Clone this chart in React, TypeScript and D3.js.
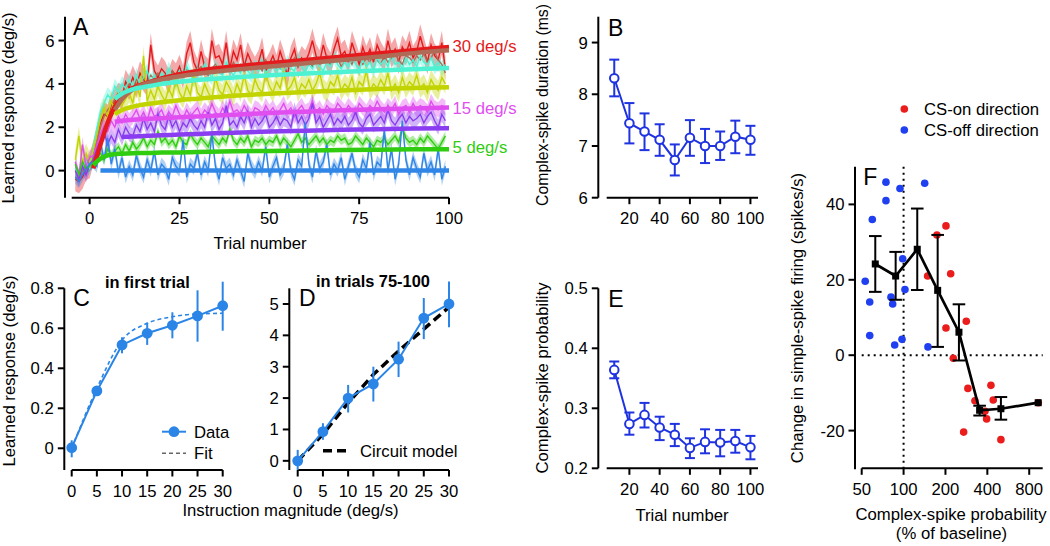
import React from 'react';
import * as d3 from 'd3';

const FONT = '"Liberation Sans", Arial, Helvetica, sans-serif';

// ---------------- Panel A data (trials -4 .. 99) ----------------
const trialsA = d3.range(-4, 100);
const respRed30 = [-0.4, -0.5, -0.3, 0.1, 0.2,
  0.8, 1.5, 2.2, 2.6, 2.5, 3.0, 3.2, 3.5, 3.4, 4.1,
  3.8, 4.3, 3.9, 4.5, 4.2, 4.0, 5.8, 4.6, 4.3, 4.7,
  4.5, 4.1, 4.6, 4.4, 4.8, 4.3, 5.4, 5.9, 5.0, 4.6,
  5.5, 4.8, 4.6, 6.0, 5.2, 5.3, 4.9, 5.9, 4.7, 5.5,
  5.1, 5.8, 4.8, 5.4, 5.0, 4.7, 5.0, 5.6, 4.6, 4.9,
  5.3, 4.8, 5.5, 5.0, 4.4, 5.2, 5.6, 4.8, 5.2, 5.0,
  5.4, 6.0, 5.3, 5.0, 5.8, 5.2, 4.9, 5.6, 6.1, 5.3,
  5.5, 5.0, 5.9, 5.4, 4.9, 5.7, 5.2, 5.6, 5.0, 5.8,
  5.4, 5.1, 6.0, 5.3, 5.6, 5.0, 5.7, 5.4, 5.9, 5.2,
  5.5, 6.2, 5.6, 5.0, 5.8, 5.3, 5.1, 5.9, 4.7];
const respBrown = [-0.3, -0.4, 0.0, 0.2, 0.1,
  0.6, 1.3, 2.0, 2.5, 2.8, 3.0, 3.3, 3.6, 3.5, 3.8,
  4.0, 3.8, 4.2, 4.0, 4.3, 4.1, 4.4, 4.2, 4.5, 4.3,
  4.4, 4.2, 4.6, 4.3, 4.5, 4.4, 4.7, 4.5, 4.3, 4.6,
  4.8, 4.5, 4.4, 4.7, 4.9, 4.6, 4.5, 4.8, 4.6, 5.0,
  4.7, 4.9, 4.6, 4.8, 5.0, 4.7, 4.9, 4.6, 5.1, 4.8,
  4.9, 5.0, 4.7, 5.1, 4.8, 4.9, 5.2, 4.8, 5.0, 4.9,
  5.1, 4.8, 5.2, 4.9, 5.0, 5.3, 4.9, 5.1, 5.2, 4.8,
  5.0, 5.2, 4.9, 5.3, 5.1, 4.9, 5.2, 5.0, 5.4, 5.1,
  4.9, 5.3, 5.0, 5.2, 5.4, 5.1, 4.9, 5.3, 5.2, 5.0,
  5.3, 5.1, 5.4, 5.0, 5.2, 5.5, 5.1, 4.9, 4.5];
const respCyan25 = [0.1, -0.3, 0.2, 0.4, 0.1,
  1.0, 1.9, 2.7, 3.1, 3.5, 3.3, 3.9, 3.6, 4.0, 3.8,
  4.2, 3.9, 4.4, 4.0, 4.3, 4.6, 4.1, 4.4, 4.0, 4.5,
  4.2, 4.7, 4.3, 4.1, 4.6, 4.3, 4.8, 4.4, 4.2, 4.7,
  4.4, 4.9, 4.5, 4.3, 4.8, 4.5, 4.4, 5.0, 4.6, 4.4,
  4.7, 4.5, 4.9, 4.6, 4.4, 4.8, 4.6, 5.1, 4.5, 4.7,
  4.9, 4.6, 4.8, 4.5, 5.0, 4.7, 4.6, 5.2, 4.8, 4.6,
  4.9, 4.7, 5.1, 4.8, 4.6, 5.0, 4.8, 5.3, 4.9, 4.7,
  5.0, 4.8, 5.2, 4.9, 4.7, 5.1, 4.8, 5.0, 4.6, 5.2,
  4.9, 5.1, 4.8, 5.4, 4.9, 5.0, 4.7, 5.2, 4.9, 5.1,
  4.8, 5.3, 5.0, 4.9, 5.2, 4.8, 5.0, 4.7, 4.9];
const respYellow20 = [0.5, 1.6, 0.3, 0.8, 0.4,
  0.9, 1.6, 2.4, 2.9, 2.5, 3.2, 2.8, 3.5, 3.0, 3.3,
  3.6, 3.1, 4.0, 3.4, 5.3, 3.2, 3.7, 3.3, 3.9, 3.5,
  3.2, 3.8, 3.4, 4.2, 3.6, 3.3, 3.9, 3.5, 4.4, 3.6,
  3.4, 4.0, 3.6, 3.3, 4.3, 3.7, 3.5, 4.1, 3.8, 3.4,
  4.0, 3.6, 4.4, 3.7, 3.5, 4.2, 3.8, 3.6, 4.5, 3.9,
  3.6, 4.1, 3.8, 4.6, 3.7, 3.9, 4.3, 3.6, 4.0, 3.8,
  4.2, 3.7, 4.0, 4.5, 3.8, 3.6, 4.1, 3.9, 4.4, 3.7,
  4.0, 3.8, 4.3, 3.6, 4.1, 3.9, 4.6, 3.7, 4.0, 3.8,
  4.2, 3.9, 4.5, 3.7, 4.0, 3.6, 4.3, 3.8, 4.1, 3.9,
  4.4, 3.8, 4.0, 3.6, 4.2, 3.9, 3.7, 4.3, 4.0];
const respMagenta15 = [0.4, -0.3, 1.2, 0.2, 0.6,
  0.7, 1.2, 1.7, 2.0, 1.8, 2.3, 2.0, 2.5, 2.2, 2.6,
  2.3, 2.5, 2.8, 2.4, 2.7, 2.3, 2.9, 2.5, 2.6, 2.8,
  2.4, 2.7, 2.5, 3.0, 2.6, 2.4, 2.8, 2.5, 2.7, 2.9,
  2.5, 2.8, 2.6, 3.1, 2.7, 2.5, 2.9, 2.6, 3.2, 2.7,
  2.8, 2.6, 3.0, 2.7, 2.5, 2.9, 2.8, 2.6, 3.0, 2.7,
  2.9, 2.6, 2.8, 3.1, 2.7, 2.9, 2.5, 2.8, 3.0, 2.7,
  2.8, 3.2, 2.7, 2.9, 2.6, 3.0, 2.8, 2.7, 3.1, 2.9,
  2.7, 3.0, 2.8, 2.6, 3.1, 2.9, 2.7, 3.0, 2.8, 3.2,
  2.9, 2.7, 3.0, 2.8, 3.1, 2.6, 2.9, 3.0, 2.7, 3.1,
  2.8, 3.0, 2.9, 2.7, 3.2, 2.9, 2.8, 3.0, 2.9];
const respPurple10 = [0.0, -0.4, 0.2, -0.2, 0.3,
  0.5, 1.0, 1.4, 1.8, 1.2, 1.6, 1.3, 1.9, 1.5, 2.0,
  1.7, 1.6, 2.1, 1.8, 2.4, 1.9, 2.2, 1.8, 2.6, 2.1,
  1.9, 2.5, 2.0, 2.3, 1.8, 2.2, 2.0, 2.4, 2.1, 1.9,
  2.3, 2.0, 2.7, 2.1, 2.4, 1.9, 2.2, 3.0, 2.1, 2.3,
  2.0, 2.5, 2.2, 2.7, 2.0, 2.4, 2.1, 2.3, 2.6, 2.0,
  2.2, 2.5, 2.1, 2.4, 2.3, 2.0, 2.8, 2.2, 2.5, 2.1,
  2.4, 3.1, 2.2, 2.5, 2.0, 2.3, 2.6, 2.1, 2.4, 2.2,
  2.5, 2.1, 2.3, 2.7, 2.2, 2.0, 2.4, 2.6, 2.1, 2.3,
  2.5, 2.2, 2.8, 2.3, 2.1, 2.4, 2.6, 2.2, 2.5, 2.3,
  2.4, 2.6, 2.2, 2.5, 2.7, 2.3, 2.0, 2.6, 2.3];
const respGreen5 = [0.3, -0.2, 0.4, 0.1, 0.2,
  0.4, 0.6, 0.8, 0.5, 1.0, 0.7, 0.9, 1.1, 0.8, 1.2,
  0.9, 1.3, 1.0, 1.2, 1.5, 1.1, 1.4, 1.2, 1.8, 1.3,
  1.5, 1.2, 1.4, 1.1, 1.6, 1.3, 1.2, 1.7, 1.4, 1.2,
  1.5, 1.3, 1.1, 1.6, 1.4, 1.2, 1.5, 1.3, 1.9, 1.4,
  1.2, 1.5, 1.3, 1.6, 1.1, 1.4, 1.3, 1.5, 1.2, 1.4,
  1.3, 1.6, 1.2, 1.5, 1.3, 1.1, 1.4, 1.7, 1.3, 1.5,
  1.2, 1.4, 1.6, 1.3, 1.5, 1.2, 1.4, 1.3, 1.6, 1.4,
  1.5, 1.2, 1.3, 1.6, 1.4, 1.2, 1.5, 1.3, 1.1, 1.4,
  1.3, 1.5, 1.2, 1.4, 1.6, 1.3, 2.0, 1.5, 1.3, 1.4,
  1.2, 1.5, 1.3, 1.6, 1.4, 1.2, 1.0, 1.3, 1.6];
const respBlue0 = [-0.3, -0.5, -0.2, 0.1, 0.3,
  0.4, 0.2, 1.3, 0.5, 1.5, 0.3, 1.0, -0.1, 0.6, -0.3,
  0.2, -0.2, 0.7, 0.1, -0.3, 0.5, 0.0, 0.9, -0.2, 0.3,
  0.1, -0.4, 0.6, 0.2, 0.0, 1.4, -0.3, 0.3, 0.1, 0.8,
  -0.2, 0.4, 0.0, 1.7, 0.2, -0.4, 0.6, 0.1, 0.3, -0.2,
  0.5, 0.0, -0.5, 0.8, 0.2, -0.1, 0.4, 0.0, 1.1, -0.3,
  0.2, 0.6, -0.2, 0.1, 1.2, 0.0, -0.4, 0.5, 0.2, 2.2,
  0.3, -0.3, 0.9, 0.1, 0.4, 1.2, -0.2, 0.3, 0.0, 0.6,
  -0.4, 0.2, 0.8, 0.0, -0.3, 0.5, 0.1, 1.3, -0.2, 0.4,
  0.2, 1.9, 0.0, 1.0, -0.4, 0.3, 2.3, 0.5, -0.2, 0.6,
  0.1, -0.3, 0.8, 0.0, 0.4, -0.2, 1.0, -0.4, 0.2];

const fitTrialsA = [1, 3, 5, 7, 9, 12, 15, 20, 25, 30, 40, 50, 60, 70, 80, 90, 100];
const fitRed30 = [0.1, 1.2, 2.2, 2.95, 3.4, 3.8, 4.0, 4.25, 4.45, 4.6, 4.8, 4.95, 5.1, 5.25, 5.4, 5.55, 5.7];
const fitBrown = [null, null, null, 2.8, 3.3, 3.75, 3.98, 4.2, 4.35, 4.47, 4.65, 4.8, 4.95, 5.1, 5.25, 5.42, 5.55];
const fitCyan25 = [null, null, null, 3.3, 3.55, 3.75, 3.85, 4.0, 4.1, 4.18, 4.3, 4.4, 4.48, 4.55, 4.62, 4.68, 4.73];
const fitYellow20 = [null, null, null, 2.6, 2.8, 2.95, 3.05, 3.15, 3.25, 3.32, 3.45, 3.55, 3.63, 3.7, 3.76, 3.81, 3.85];
const fitMagenta15 = [null, null, null, 2.25, 2.3, 2.35, 2.38, 2.42, 2.46, 2.5, 2.58, 2.66, 2.72, 2.78, 2.83, 2.87, 2.91];
const fitPurple10 = [null, null, null, null, 1.55, 1.57, 1.6, 1.63, 1.66, 1.69, 1.75, 1.8, 1.84, 1.88, 1.91, 1.94, 1.96];
const fitGreen5 = [0.25, 0.55, 0.7, 0.76, 0.78, 0.8, 0.81, 0.83, 0.84, 0.86, 0.89, 0.91, 0.93, 0.95, 0.96, 0.98, 0.99];
const fitBlue0 = [null, 0, 0, 0, 0, 0, 0, 0, 0, 0, 0, 0, 0, 0, 0, 0, 0];

const colorsA = ['#e41a1c', '#b06a55', '#4cf2d2', '#c2d400', '#e04ef0', '#8a3df0', '#2fcc10', '#2f86e6'];
const semA = [0.55, 0, 0.35, 0.45, 0.35, 0.35, 0.22, 0.3];
const labelsA = ['30 deg/s', '15 deg/s', '5 deg/s'];
const labelValsA = [5.77, 2.89, 1.1];
const labelColorsA = ['#e41a1c', '#e04ef0', '#2fcc10'];

// ---------------- Panel B / E ----------------
const trialBins = [10, 20, 30, 40, 50, 60, 70, 80, 90, 100];
const csDur = [8.31, 7.44, 7.28, 7.12, 6.73, 7.16, 7.0, 7.0, 7.18, 7.12];
const csDurLo = [7.96, 7.05, 6.92, 6.81, 6.43, 6.81, 6.67, 6.73, 6.86, 6.83];
const csDurHi = [8.67, 7.83, 7.63, 7.42, 7.03, 7.5, 7.33, 7.28, 7.49, 7.39];
const csProb = [0.364, 0.274, 0.289, 0.268, 0.256, 0.234, 0.244, 0.243, 0.2455, 0.235];
const csProbLo = [0.35, 0.256, 0.268, 0.247, 0.237, 0.217, 0.225, 0.22, 0.226, 0.215];
const csProbHi = [0.378, 0.293, 0.309, 0.286, 0.274, 0.25, 0.265, 0.264, 0.264, 0.254];

// ---------------- Panel C / D ----------------
const magnitudes = [0, 5, 10, 15, 20, 25, 30];
const respFirst = [0.003, 0.287, 0.517, 0.575, 0.615, 0.662, 0.713];
const respFirstLo = [-0.045, 0.27, 0.475, 0.517, 0.55, 0.533, 0.588];
const respFirstHi = [0.04, 0.305, 0.555, 0.628, 0.68, 0.79, 0.833];
const fitFirst = [0, 0.3, 0.54, 0.625, 0.658, 0.672, 0.675];
const respLate = [0, 0.93, 2.0, 2.45, 3.24, 4.55, 5.0];
const respLateLo = [-0.29, 0.67, 1.54, 1.89, 2.67, 3.88, 4.26];
const respLateHi = [0.35, 1.2, 2.42, 3.0, 3.8, 5.19, 5.72];
const circuitModel = [0, 0.85, 1.85, 2.75, 3.5, 4.2, 4.9];

// ---------------- Panel F ----------------
const csOnX = [201.7, 173.7, 148.9, 218, 282.3, 201.7, 227.7, 290, 325.8, 424.5, 441, 395.3, 384.6, 270.3, 500.7, 930];
const csOnY = [34.3, 31.9, 21.0, 21.6, 9.0, 7.2, -0.8, -8.8, -12.1, -8.0, -11.9, -16.9, -14.9, -20.4, -22.4, -12.6];
const csOffX = [74.7, 94.2, 141.8, 74.7, 59.6, 53.0, 98.5, 57.1, 81.2, 83.5, 102.3, 57.1, 86.3, 97.4, 149.7];
const csOffY = [45.9, 44.2, 45.6, 41.0, 36.0, 19.6, 25.6, 14.1, 15.4, 13.6, 17.4, 5.2, 2.7, 4.2, 2.2];
const binX = [62.6, 87.7, 125.4, 175.8, 250, 352, 500.7, 928];
const binY = [24.2, 21.0, 28.1, 17.2, 6.1, -14.6, -14.2, -12.6];
const binLo = [16.8, 14.7, 17.3, 2.2, -1.4, -16.0, -17.1, -12.6];
const binHi = [31.6, 27.4, 38.9, 31.9, 13.5, -13.4, -11.1, -12.6];

const FS = 16.7;

function YAxis({ scale, x, top, bottom, ticks, fmt }: any) {
  return (
    <g>
      <line x1={x} x2={x} y1={top} y2={bottom} stroke="#000" strokeWidth={2} />
      {ticks.map((t: number) => (
        <g key={t}>
          <line x1={x - 6.5} x2={x} y1={scale(t)} y2={scale(t)} stroke="#000" strokeWidth={2} />
          <text x={x - 10.5} y={scale(t) + 6} textAnchor="end">{fmt(t)}</text>
        </g>
      ))}
    </g>
  );
}

function XAxis({ scale, y, left, right, ticks, fmt }: any) {
  return (
    <g>
      <line x1={left} x2={right} y1={y} y2={y} stroke="#000" strokeWidth={2} />
      {ticks.map((t: number) => (
        <g key={t}>
          <line x1={scale(t)} x2={scale(t)} y1={y} y2={y + 6.5} stroke="#000" strokeWidth={2} />
          <text x={scale(t)} y={y + 26.5} textAnchor="middle">{fmt(t)}</text>
        </g>
      ))}
    </g>
  );
}

const plain = (v: number) => String(v);
const one = (v: number) => (v === 0 ? '0' : v.toFixed(1));

export default function App() {
  // scales
  const xA = d3.scaleLinear().domain([-5, 100]).range([71.7, 449]);
  const yA = d3.scaleLinear().domain([-1.25, 7.1]).range([197.7, 16.7]);
  const xB = d3.scaleLinear().domain([5, 105]).range([606.7, 758]);
  const yB = d3.scaleLinear().domain([6, 9.5]).range([197.7, 16.7]);
  const yE = d3.scaleLinear().domain([0.2, 0.5]).range([468.3, 288.3]);
  const xC = d3.scaleLinear().domain([0, 30]).range([71.7, 222.7]);
  const yC = d3.scaleLinear().domain([-0.105, 0.8]).range([469.3, 288.3]);
  const xD = d3.scaleLinear().domain([0, 30]).range([297.7, 449]);
  const yD = d3.scaleLinear().domain([-0.27, 5.5]).range([469.3, 288.3]);
  const xF = d3.scaleLog().base(2).domain([50, 1000]).range([861.7, 1042.7]);
  const yF = d3.scaleLinear().domain([-30, 50]).range([468.3, 166.7]);

  const seriesVals = [respRed30, respBrown, respCyan25, respYellow20, respMagenta15, respPurple10, respGreen5, respBlue0];
  const seriesFits = [fitRed30, fitBrown, fitCyan25, fitYellow20, fitMagenta15, fitPurple10, fitGreen5, fitBlue0];

  const band = d3.area<number>()
    .x((_, i) => xA(trialsA[i]));
  const traceLine = d3.line<number>().x((_, i) => xA(trialsA[i])).y((v) => yA(v));
  const fitLine = d3.line<number | null>()
    .defined((v) => v !== null)
    .x((_, i) => xA(fitTrialsA[i]))
    .y((v) => yA(v as number))
    .curve(d3.curveMonotoneX);

  const blueBE = '#1f33e0';
  const blueCD = '#2a85e6';

  const lineB = d3.line<number>().x((_, i) => xB(trialBins[i])).y((v) => yB(v));
  const lineE = d3.line<number>().x((_, i) => xB(trialBins[i])).y((v) => yE(v));
  const lineC = d3.line<number>().x((_, i) => xC(magnitudes[i])).y((v) => yC(v));
  const fitC = d3.line<number>().x((_, i) => xC(magnitudes[i])).y((v) => yC(v)).curve(d3.curveMonotoneX);
  const lineD = d3.line<number>().x((_, i) => xD(magnitudes[i])).y((v) => yD(v));
  const binLine = d3.line<number>().x((_, i) => xF(binX[i])).y((v) => yF(v));

  const capErr = (x: number, lo: number, hi: number, w: number, color: string, key: any) => (
    <g key={key} stroke={color} strokeWidth={2}>
      <line x1={x} x2={x} y1={lo} y2={hi} />
      <line x1={x - w} x2={x + w} y1={lo} y2={lo} />
      <line x1={x - w} x2={x + w} y1={hi} y2={hi} />
    </g>
  );

  return (
    <svg width={1050} height={546} style={{ position: 'absolute', left: 0, top: 0, background: '#fff' }}
      fontFamily={FONT} fontSize={FS} fill="#000">
      {/* ================= Panel A ================= */}
      <g>
        {seriesVals.map((vals, s) => semA[s] > 0 ? (
          <path key={'b' + s}
            d={band.y0((v) => yA(v - semA[s])).y1((v) => yA(v + semA[s]))(vals) as string}
            fill={colorsA[s]} fillOpacity={0.38} stroke="none" />
        ) : null)}
        {seriesVals.map((vals, s) => (
          <path key={'t' + s} d={traceLine(vals) as string} fill="none" stroke={colorsA[s]} strokeWidth={1.4} />
        ))}
        {seriesFits.map((f, s) => (
          <path key={'f' + s} d={fitLine(f) as string} fill="none" stroke={colorsA[s]} strokeWidth={4.5} />
        ))}
        <YAxis scale={yA} x={65} top={16.7} bottom={197.7} ticks={[0, 2, 4, 6]} fmt={plain} />
        <XAxis scale={xA} y={197.7} left={71.7} right={449} ticks={[0, 25, 50, 75, 100]} fmt={plain} />
        <text x={260} y={249} textAnchor="middle">Trial number</text>
        <text transform="translate(14,108) rotate(-90)" textAnchor="middle">Learned response (deg/s)</text>
        <text x={73} y={35} fontSize={23}>A</text>
        {labelsA.map((l, i) => (
          <text key={l} x={452.5} y={yA(labelValsA[i]) + 6} fill={labelColorsA[i]}>{l}</text>
        ))}
      </g>

      {/* ================= Panel B ================= */}
      <g>
        <YAxis scale={yB} x={598.3} top={16.7} bottom={197.7} ticks={[6, 7, 8, 9]} fmt={plain} />
        <XAxis scale={xB} y={197.7} left={606.7} right={758} ticks={[20, 40, 60, 80, 100]} fmt={plain} />
        <text transform="translate(548,105) rotate(-90)" textAnchor="middle" fontSize={15.8}>Complex-spike duration (ms)</text>
        <text x={608} y={35.7} fontSize={23}>B</text>
        {trialBins.map((t, i) => capErr(xB(t), yB(csDurLo[i]), yB(csDurHi[i]), 5, blueBE, 'eb' + i))}
        <path d={lineB(csDur) as string} fill="none" stroke={blueBE} strokeWidth={2} />
        {trialBins.map((t, i) => (
          <circle key={i} cx={xB(t)} cy={yB(csDur[i])} r={4.3} fill="#fff" stroke={blueBE} strokeWidth={2} />
        ))}
      </g>

      {/* ================= Panel E ================= */}
      <g>
        <YAxis scale={yE} x={598.3} top={288.3} bottom={468.3} ticks={[0.2, 0.3, 0.4, 0.5]} fmt={one} />
        <XAxis scale={xB} y={468.3} left={606.7} right={758} ticks={[20, 40, 60, 80, 100]} fmt={plain} />
        <text x={682} y={521} textAnchor="middle">Trial number</text>
        <text transform="translate(548,378) rotate(-90)" textAnchor="middle">Complex-spike probability</text>
        <text x={608.3} y={306.7} fontSize={23}>E</text>
        {trialBins.map((t, i) => capErr(xB(t), yE(csProbLo[i]), yE(csProbHi[i]), 5, blueBE, 'ee' + i))}
        <path d={lineE(csProb) as string} fill="none" stroke={blueBE} strokeWidth={2} />
        {trialBins.map((t, i) => (
          <circle key={i} cx={xB(t)} cy={yE(csProb[i])} r={4.3} fill="#fff" stroke={blueBE} strokeWidth={2} />
        ))}
      </g>

      {/* ================= Panel C ================= */}
      <g>
        <YAxis scale={yC} x={64.3} top={288.3} bottom={470} ticks={[0, 0.2, 0.4, 0.6, 0.8]} fmt={one} />
        <XAxis scale={xC} y={470} left={71.7} right={222.7} ticks={magnitudes} fmt={plain} />
        <text transform="translate(15,371) rotate(-90)" textAnchor="middle">Learned response (deg/s)</text>
        <text x={73.3} y={306} fontSize={23}>C</text>
        <text x={105} y={288} fontWeight="bold" fontSize={16.4}>in first trial</text>
        <path d={fitC(fitFirst) as string} fill="none" stroke={blueCD} strokeWidth={1.6} strokeDasharray="4,3" />
        {magnitudes.map((m, i) => (
          <line key={i} x1={xC(m)} x2={xC(m)} y1={yC(respFirstLo[i])} y2={yC(respFirstHi[i])} stroke={blueCD} strokeWidth={2} />
        ))}
        <path d={lineC(respFirst) as string} fill="none" stroke={blueCD} strokeWidth={2} />
        {magnitudes.map((m, i) => (
          <circle key={i} cx={xC(m)} cy={yC(respFirst[i])} r={5.4} fill={blueCD} />
        ))}
        {/* legend */}
        <line x1={162} x2={186} y1={431.7} y2={431.7} stroke={blueCD} strokeWidth={2} />
        <circle cx={174} cy={431.7} r={5.4} fill={blueCD} />
        <text x={194} y={437.7}>Data</text>
        <line x1={162} x2={186} y1={453.3} y2={453.3} stroke="#666" strokeWidth={1.5} strokeDasharray="4,3" />
        <text x={194} y={459.3}>Fit</text>
      </g>

      {/* ================= Panel D ================= */}
      <g>
        <YAxis scale={yD} x={289.3} top={288.3} bottom={470} ticks={[0, 1, 2, 3, 4, 5]} fmt={plain} />
        <XAxis scale={xD} y={470} left={297.7} right={449} ticks={magnitudes} fmt={plain} />
        <text x={299} y={306} fontSize={23}>D</text>
        <text x={316} y={287} fontWeight="bold" fontSize={16.4}>in trials 75-100</text>
        <path d={lineD(circuitModel) as string} fill="none" stroke="#000" strokeWidth={3.5} strokeDasharray="9,5" />
        {magnitudes.map((m, i) => (
          <line key={i} x1={xD(m)} x2={xD(m)} y1={yD(respLateLo[i])} y2={yD(respLateHi[i])} stroke={blueCD} strokeWidth={2} />
        ))}
        <path d={lineD(respLate) as string} fill="none" stroke={blueCD} strokeWidth={2} />
        {magnitudes.map((m, i) => (
          <circle key={i} cx={xD(m)} cy={yD(respLate[i])} r={5.4} fill={blueCD} />
        ))}
        <line x1={323} x2={351} y1={450.7} y2={450.7} stroke="#000" strokeWidth={3.5} strokeDasharray="9,5" />
        <text x={360} y={456.7}>Circuit model</text>
        <text x={290.5} y={516} textAnchor="middle">Instruction magnitude (deg/s)</text>
      </g>

      {/* ================= Panel F ================= */}
      <g>
        <line x1={xF(100)} x2={xF(100)} y1={166.7} y2={468.3} stroke="#000" strokeWidth={2} strokeDasharray="2,4" />
        <line x1={861.7} x2={1042.7} y1={yF(0)} y2={yF(0)} stroke="#000" strokeWidth={2} strokeDasharray="2,4" />
        <YAxis scale={yF} x={855} top={166.7} bottom={469.3} ticks={[-20, 0, 20, 40]} fmt={plain} />
        <XAxis scale={xF} y={468.3} left={861.7} right={1042.7} ticks={[50, 100, 200, 400, 800]} fmt={plain} />
        <text transform="translate(803,318) rotate(-90)" textAnchor="middle">Change in simple-spike firing (spikes/s)</text>
        <text x={951} y={520} textAnchor="middle">Complex-spike probability</text>
        <text x={951.5} y={539} textAnchor="middle">(% of baseline)</text>
        <text x={863.3} y={185} fontSize={23}>F</text>
        {csOffX.map((x, i) => (
          <circle key={'off' + i} cx={xF(x)} cy={yF(csOffY[i])} r={3.8} fill="#1f3ff0" />
        ))}
        {csOnX.map((x, i) => (
          <circle key={'on' + i} cx={xF(x)} cy={yF(csOnY[i])} r={3.8} fill="#ea1c1c" />
        ))}
        {binX.map((x, i) => binLo[i] !== binHi[i]
          ? capErr(xF(x), yF(binLo[i]), yF(binHi[i]), 6.3, '#000', 'fb' + i) : null)}
        <path d={binLine(binY) as string} fill="none" stroke="#000" strokeWidth={2.7} />
        {binX.map((x, i) => (
          <rect key={'sq' + i} x={xF(x) - 3.5} y={yF(binY[i]) - 3.5} width={7} height={7} fill="#000" />
        ))}
        {/* legend */}
        <circle cx={904.3} cy={109} r={3.8} fill="#ea1c1c" />
        <text x={924} y={115}>CS-on direction</text>
        <circle cx={904.3} cy={130} r={3.8} fill="#1f3ff0" />
        <text x={924} y={136}>CS-off direction</text>
      </g>
    </svg>
  );
}
